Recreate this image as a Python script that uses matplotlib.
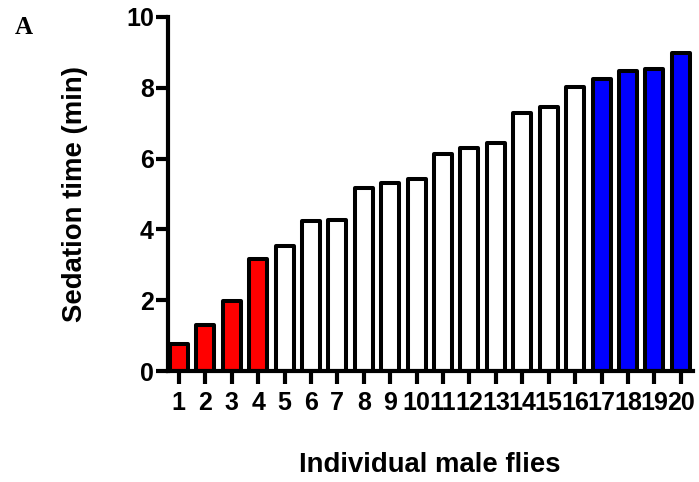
import numpy as np
import matplotlib
matplotlib.use("Agg")
import matplotlib.pyplot as plt

# sedation time per fly
flies = list(range(1, 21))
sedation_min = [0.77, 1.31, 1.98, 3.17, 3.54, 4.24, 4.27, 5.18, 5.32, 5.43,
                6.14, 6.31, 6.45, 7.29, 7.46, 8.03, 8.26, 8.48, 8.54, 8.99]
bar_colors = ["#ff0000"] * 4 + ["#ffffff"] * 12 + ["#0000ff"] * 4
y_ticks = [0, 2, 4, 6, 8, 10]

plt.rcParams['font.family'] = ['Liberation Sans', 'DejaVu Sans']

fig = plt.figure(figsize=(6.99, 4.82), dpi=100)
ax = fig.add_axes([0.240, 0.230, 0.751, 0.735])

ax.bar(flies, sedation_min, width=0.68, color=bar_colors, edgecolor='black',
       linewidth=2.9, joinstyle='round', zorder=2)

ax.set_xlim(0.58, 20.45)
ax.set_ylim(0, 10)
ax.set_yticks(y_ticks)
ax.set_xticks(flies)
ax.set_xticklabels([str(f) for f in flies])

for side in ['top', 'right']:
    ax.spines[side].set_visible(False)
for side in ['left', 'bottom']:
    ax.spines[side].set_linewidth(3)
    ax.spines[side].set_capstyle('projecting')

ax.tick_params(axis='both', which='major', direction='out', length=9, width=3,
               labelsize=18)
ax.tick_params(axis='x', pad=5)
ax.tick_params(axis='y', pad=1)
for lbl in ax.get_xticklabels() + ax.get_yticklabels():
    lbl.set_fontweight('bold')

ax.set_ylabel('Sedation time (min)', fontsize=19.8, fontweight='bold', labelpad=27)
ax.set_xlabel('Individual male flies', fontsize=19.8, fontweight='bold', labelpad=27)

fig.text(0.021, 0.967, 'A', fontsize=18, fontweight='bold',
         family='Liberation Serif', va='top', ha='left')

fig.savefig('out.png', dpi=100)
